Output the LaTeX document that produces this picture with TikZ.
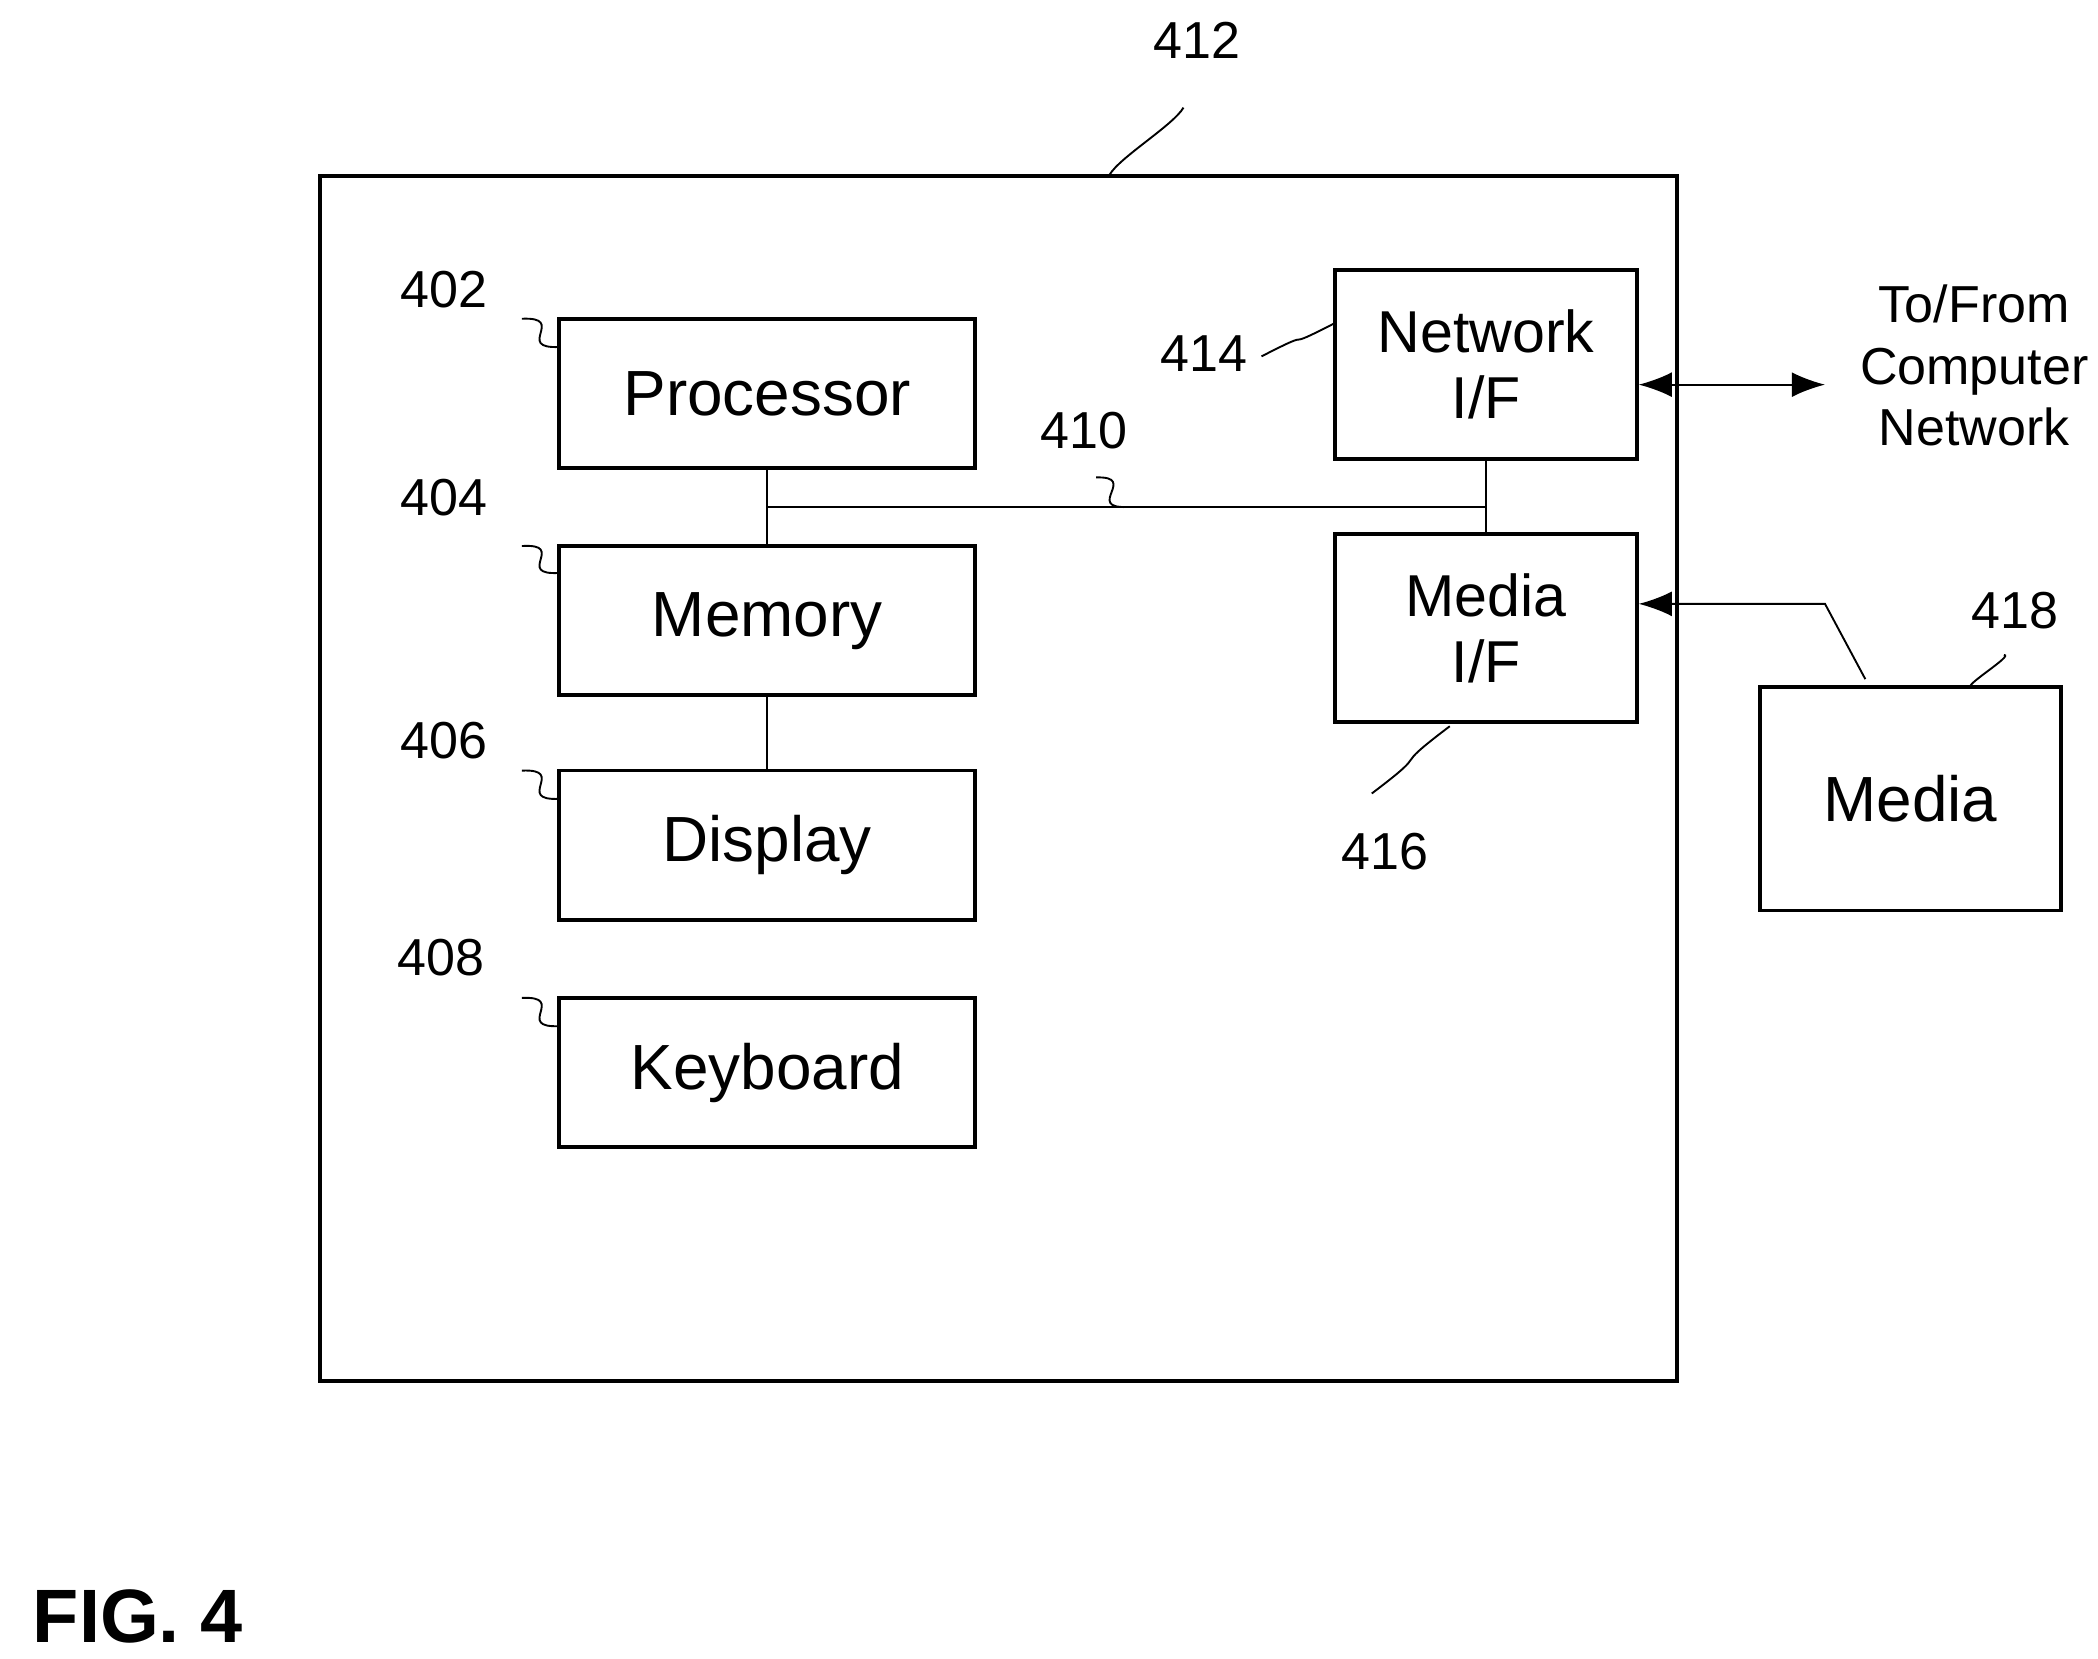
\documentclass[tikz,border=0pt]{standalone}
\usepackage{fontspec}
\setmainfont{Liberation Sans}
\usetikzlibrary{arrows.meta,positioning,calc}
\tikzset{
  blk/.style={draw,thick,minimum width=3.09cm,minimum height=1.11cm,font=\fontsize{13.5}{15}\selectfont,align=center},
  io/.style={draw,thick,minimum width=2.24cm,minimum height=1.4cm,font=\fontsize{12.5}{14}\selectfont,align=center},
  ref/.style={font=\fontsize{11}{13}\selectfont},
  lead/.style={thin}
}
\newcommand{\squig}[2]{\draw[lead] (#1) .. controls ($(#1)!0.5!(#2)+(20,-12)$) and ($(#1)!0.5!(#2)+(-20,12)$) .. (#2);}
\begin{document}
\begin{tikzpicture}[x=0.01cm,y=-0.01cm]
\useasboundingbox (0,0) rectangle (1560,1233);
    % outer frame and blocks
    \draw[thick] (238,131) rectangle (1247,1027);
    \node[blk] (proc) at (570.5,292.5) {Processor};
    \node[blk] (mem) at (570.5,461.5) {Memory};
    \node[blk] (disp) at (570.5,628.5) {Display};
    \node[blk] (kbd) at (570.5,797.5) {Keyboard};
    \node[io] (net) at (1105,271) {Network\\I/F};
    \node[io] (mif) at (1105,467) {Media\\I/F};
    \node[io,minimum height=1.66cm,font=\fontsize{13.5}{15}\selectfont] (media) at (1420.5,594) {Media};
    % bus
    \coordinate (bl) at (proc.south |- 0,377);
    \coordinate (br) at (net.south |- 0,377);
    \draw (proc.south) -- (mem.north);
    \draw (bl) -- (br);
    \draw (net.south) -- (mif.north);
    \draw (mem.south) -- (disp.north);
    % external links
    \coordinate (ext) at (1357,286);
    \draw[{Latex[length=7pt]}-{Latex[length=7pt]}] (net.east |- ext) -- (ext);
    \node[ref,align=center] (tofrom) at (1468,272) {To/From\\Computer\\Network};
    \coordinate (mk) at (1357,449);
    \draw[-{Latex[length=7pt]}] (1387,505) -- (mk) -- (mif.east |- mk);
    % reference numerals
    \node[ref] (n412) at (890,30) {412};
    \node[ref] (n402) at (330,215) {402};
    \node[ref] (n404) at (330,370) {404};
    \node[ref] (n406) at (330,551) {406};
    \node[ref] (n408) at (328,712) {408};
    \node[ref] (n414) at (895,263) {414};
    \node[ref] (n410) at (806,320) {410};
    \node[ref] (n416) at (1030,633) {416};
    \node[ref] (n418) at (1498,454) {418};
    \squig{880,80}{825,130}
    \squig{388,237}{416,258}
    \squig{388,406}{416,426}
    \squig{388,573}{416,594}
    \squig{388,742}{416,763}
    \squig{938,265}{993,240}
    \squig{815,355}{838,377}
    \squig{1020,590}{1078,540}
    \squig{1490,487}{1466,511}
    \node[font=\bfseries\fontsize{16}{18}\selectfont,anchor=west] (fig) at (12,1202) {FIG. 4};
\end{tikzpicture}
\end{document}
